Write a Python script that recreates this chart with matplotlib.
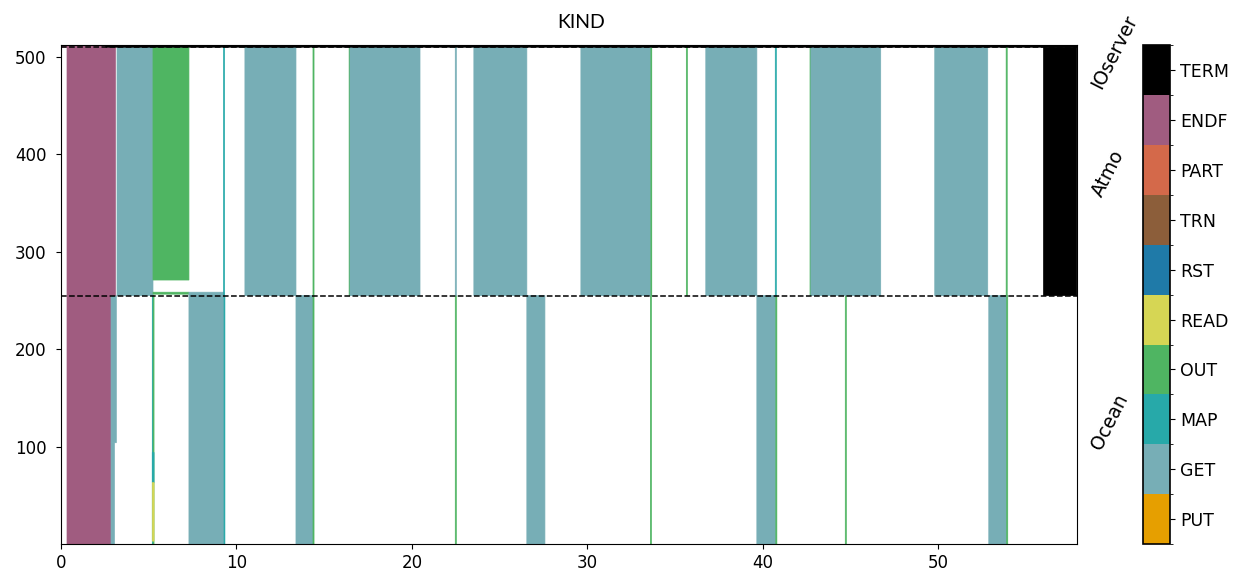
"""
Timeline of event kinds per rank for the Ocean, Atmo and IOserver groups.
"""

import matplotlib
matplotlib.use("Agg")
import matplotlib.pyplot as plt
from matplotlib.colors import ListedColormap, BoundaryNorm
from matplotlib.cm import ScalarMappable

plt.rcParams["font.family"] = ["DejaVu Sans"]

# event kinds, bottom to top of the colour bar
kinds = ["PUT", "GET", "MAP", "OUT", "READ", "RST", "TRN", "PART", "ENDF", "TERM"]
kind_colors = ["#e69f00", "#77aeb6", "#27a9a9", "#4fb562", "#d6d654",
               "#1f7aa8", "#8c5e3a", "#d4694a", "#a05c80", "#000000"]

# rank ranges of the groups (y units)
group_names = ["Ocean", "Atmo", "IOserver"]
group_lo = [0, 255, 510]
group_hi = [255, 510, 512]
group_label_y = [125, 380, 505]

# segments: (start, end, kind, rank_lo, rank_hi)
ocean_segments = [
    (0.34, 2.85, "ENDF", 0, 255),
    (2.85, 3.15, "GET", 104, 255),
    (2.85, 3.04, "GET", 0, 104),
    (5.20, 5.25, "MAP", 0, 255),
    (5.25, 5.30, "OUT", 0, 255),
    (5.20, 5.30, "MAP", 63, 94),
    (5.20, 5.30, "READ", 3, 63),
    (7.29, 9.29, "GET", 0, 255),
    (9.29, 9.34, "MAP", 0, 255),
    (13.39, 14.36, "GET", 0, 255),
    (14.36, 14.42, "OUT", 0, 255),
    (22.47, 22.53, "OUT", 0, 255),
    (26.55, 27.58, "GET", 0, 255),
    (33.59, 33.65, "OUT", 0, 255),
    (39.66, 40.74, "GET", 0, 255),
    (40.74, 40.80, "OUT", 0, 255),
    (44.70, 44.76, "OUT", 0, 255),
    (52.88, 53.90, "GET", 0, 255),
    (53.90, 53.96, "OUT", 0, 255),
]

atmo_segments = [
    (0.34, 3.10, "ENDF", 255, 510),
    (3.19, 5.24, "GET", 255, 510),
    (5.24, 7.29, "OUT", 271, 510),
    (5.24, 7.29, "OUT", 256.5, 258.5),
    (7.29, 9.29, "GET", 255, 258.5),
    (9.26, 9.32, "MAP", 255, 510),
    (10.48, 13.39, "GET", 255, 510),
    (14.36, 14.42, "OUT", 255, 510),
    (16.42, 16.47, "OUT", 255, 510),
    (16.47, 20.46, "GET", 255, 510),
    (22.47, 22.53, "GET", 255, 510),
    (23.53, 26.55, "GET", 255, 510),
    (29.63, 33.62, "GET", 255, 510),
    (33.62, 33.67, "OUT", 255, 510),
    (35.64, 35.70, "OUT", 255, 510),
    (36.75, 39.66, "GET", 255, 510),
    (40.71, 40.77, "MAP", 255, 510),
    (42.69, 42.74, "OUT", 255, 510),
    (42.74, 46.72, "GET", 255, 510),
    (49.80, 52.82, "GET", 255, 510),
    (53.87, 53.93, "OUT", 255, 510),
    (56.00, 57.90, "TERM", 255, 510),
]

ioserver_segments = [
    (0.05, 2.55, "ENDF", 510, 512),
    (2.55, 57.90, "TERM", 510, 512),
]

x_max = 57.9
y_ticks = [100, 200, 300, 400, 500]


def draw_segments(ax, segments):
    for t0, t1, kind, r0, r1 in segments:
        c = kind_colors[kinds.index(kind)]
        bars = ax.barh(r0, t1 - t0, left=t0, height=r1 - r0, align="edge",
                       color=c, edgecolor=c, linewidth=0.5)
        for b in bars:
            b.set_snap(False)


def main() -> None:
    fig = plt.figure(figsize=(12.51, 5.80), dpi=100)
    ax = fig.add_axes([0.0488, 0.062, 0.812, 0.860])
    cax = fig.add_axes([0.9137, 0.062, 0.0216, 0.860])

    for segs in (ocean_segments, atmo_segments, ioserver_segments):
        draw_segments(ax, segs)

    for y in group_lo[1:]:
        ax.axhline(y, color="black", linestyle="--", linewidth=1.1)

    ax.set_xlim(0, x_max)
    ax.set_ylim(0, group_hi[-1])
    ax.set_yticks(y_ticks)
    ax.tick_params(labelsize=12)
    ax.tick_params(axis="y", pad=7)

    for name, y in zip(group_names, group_label_y):
        ax.text(1.011, y, name, transform=ax.get_yaxis_transform(),
                rotation=63, ha="left", va="center", fontsize=13.5)

    fig.text(581 / 1251, 1 - 22 / 580, "KIND", ha="center", va="center",
             fontsize=14, family=["Lato", "DejaVu Sans"])

    cmap = ListedColormap(kind_colors)
    norm = BoundaryNorm([i - 0.5 for i in range(len(kinds) + 1)], cmap.N)
    cb = fig.colorbar(ScalarMappable(norm=norm, cmap=cmap), cax=cax,
                      ticks=range(len(kinds)))
    cb.set_ticklabels(kinds)
    cb.outline.set_linewidth(1.2)
    for lab in cax.get_yticklabels():
        lab.set_fontsize(12.5)

    fig.savefig("out.png", dpi=100)
    plt.close(fig)


if __name__ == "__main__":
    main()
